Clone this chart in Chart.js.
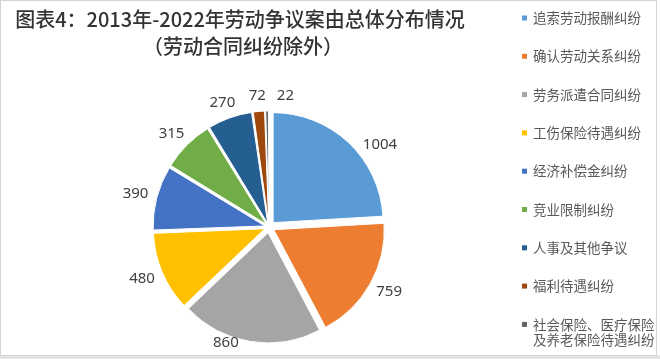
<!DOCTYPE html>
<html>
<head>
<meta charset="utf-8">
<script src="https://cdn.jsdelivr.net/npm/chart.js@4"></script>
<style>
  body { margin: 0; background: #fff; }
  #box { width: 660px; height: 359px; }
</style>
</head>
<body>
<div id="box"><canvas id="myChart" width="660" height="359"></canvas></div>
<script>
const categories = [
  '追索劳动报酬纠纷',
  '确认劳动关系纠纷',
  '劳务派遣合同纠纷',
  '工伤保险待遇纠纷',
  '经济补偿金纠纷',
  '竞业限制纠纷',
  '人事及其他争议',
  '福利待遇纠纷',
  '社会保险、医疗保险及养老保险待遇纠纷'
];
const caseCounts = [1004, 759, 860, 480, 390, 315, 270, 72, 22];
const sliceColors = ['#5B9BD5', '#ED7D31', '#A5A5A5', '#FFC000', '#4472C4', '#70AD47', '#255E91', '#9E480E', '#636363'];
const titleLines = ['图表4：2013年-2022年劳动争议案由总体分布情况', '（劳动合同纠纷除外）'];

const CJK = '"Noto Sans CJK SC", sans-serif';
const explode = 6;
const total = caseCounts.reduce((a, b) => a + b, 0);

// chart.js halves/quarters the offset depending on slice size, so undo that
function sliceOffset(ctx) {
  const circ = ctx.raw / total * Math.PI * 2;
  const fix = 1 - Math.sin(Math.min(Math.PI, circ));
  return 4 * explode / (1 + fix);
}

// little nudges (degrees) where Excel moved labels off the mid angle
const labelNudge = { 0: 8, 2: 9, 8: 8 };

const extras = {
  id: 'extras',
  beforeDraw(chart) {
    const c = chart.ctx;
    c.save();
    c.fillStyle = '#fff';
    c.fillRect(0, 0, 660, 359);
    c.fillStyle = '#e3e3e3';
    c.fillRect(0, 355, 660, 4);
    c.strokeStyle = '#d4d4d4';
    c.lineWidth = 1;
    c.strokeRect(0.5, 0.5, 656, 355);
    c.restore();
  },
  afterDatasetsDraw(chart) {
    const c = chart.ctx;
    const meta = chart.getDatasetMeta(0);
    c.save();
    c.font = '15px "Noto Sans", sans-serif';
    c.fillStyle = '#404040';
    c.textAlign = 'center';
    c.textBaseline = 'middle';
    meta.data.forEach((arc, i) => {
      const p = arc.getProps(['x', 'y', 'startAngle', 'endAngle', 'outerRadius'], true);
      const mid = (p.startAngle + p.endAngle) / 2 + (labelNudge[i] || 0) * Math.PI / 180;
      const r0 = p.outerRadius + explode + 9;
      const txt = String(caseCounts[i]);
      const w = c.measureText(txt).width;
      const h = 14;
      let x = p.x + Math.cos(mid) * r0 + Math.cos(mid) * w / 2;
      let y = p.y + Math.sin(mid) * r0 + Math.sin(mid) * h / 2;
      y = Math.min(y, 343);
      c.fillText(txt, x, y);
    });
    c.restore();
  },
  afterDraw(chart) {
    const c = chart.ctx;
    c.save();
    // title
    c.fillStyle = '#333333';
    c.font = '500 20px ' + CJK;
    c.textAlign = 'center';
    c.textBaseline = 'middle';
    c.fillText(titleLines[0], 240, 19);
    c.fillText(titleLines[1], 243, 46);

    // legend
    c.font = '13.5px ' + CJK;
    c.textAlign = 'left';
    const colors = chart.data.datasets[0].backgroundColor;
    chart.data.labels.forEach((lab, i) => {
      const y = 18 + i * 38.3;
      c.fillStyle = colors[i];
      c.fillRect(522, y - 2.5, 5, 5);
      c.fillStyle = '#595959';
      // wrap long labels by width
      const lines = [];
      let cur = '';
      for (const ch of lab) {
        if (c.measureText(cur + ch).width > 122 && cur) { lines.push(cur); cur = ch; }
        else cur += ch;
      }
      lines.push(cur);
      lines.forEach((ln, k) => c.fillText(ln, 533, y + k * 15.5));
    });
    c.restore();
  }
};

new Chart(document.getElementById('myChart'), {
  type: 'pie',
  data: {
    labels: categories,
    datasets: [{
      data: caseCounts,
      backgroundColor: sliceColors,
      borderColor: '#fff',
      borderWidth: 1,
      offset: sliceOffset
    }]
  },
  options: {
    responsive: false,
    animation: false,
    radius: 110,
    layout: { padding: { left: 150, right: 272, top: 110, bottom: 15 } },
    plugins: {
      legend: { display: false },
      title: { display: false },
      tooltip: { enabled: false }
    }
  },
  plugins: [extras]
});
</script>
</body>
</html>
